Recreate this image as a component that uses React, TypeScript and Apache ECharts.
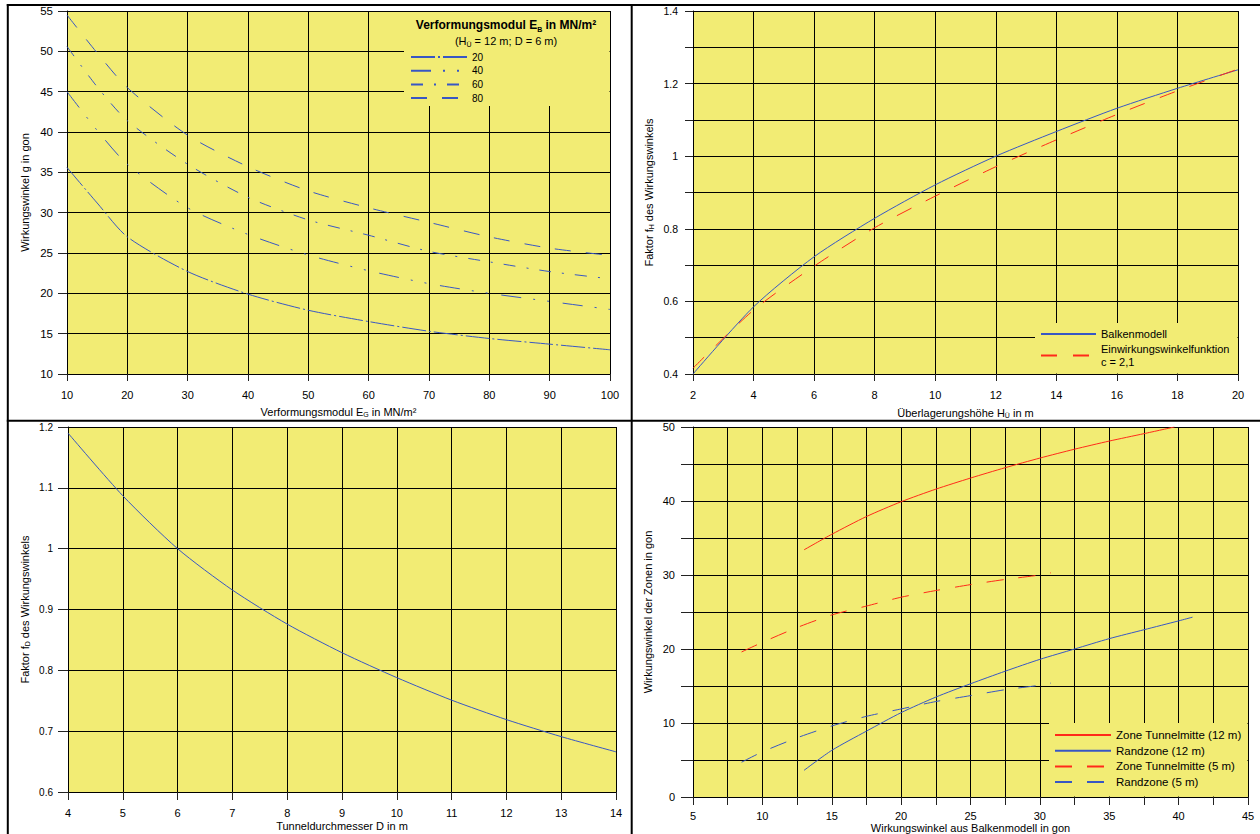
import React, { useEffect, useRef } from 'react';
import * as echarts from 'echarts';

const FONT = '"Liberation Sans", Arial, sans-serif';
const YELLOW = '#f2ec74';
const BLUE = '#3857c4';
const RED = '#ff2a1a';
const INK = '#000000';

// Panel 1: Wirkungswinkel vs. Verformungsmodul E_G
const eG = [10, 15, 20, 30, 40, 50, 60, 70, 80, 90, 100];
const eB20 = [35.6, 31.2, 27.0, 22.7, 19.9, 17.9, 16.5, 15.3, 14.4, 13.7, 13.0];
const eB40 = [45.0, 40.2, 36.0, 30.6, 27.3, 24.75, 22.8, 21.2, 20.0, 19.0, 18.0];
const eB60 = [50.6, 45.6, 41.4, 36.0, 31.9, 29.1, 27.2, 25.2, 23.9, 22.7, 21.8];
const eB80 = [54.5, 49.8, 45.5, 39.6, 35.7, 32.7, 30.6, 28.8, 27.0, 25.6, 24.7];
const eBNames = ['20', '40', '60', '80'];

// Panel 2: Faktor f_H vs. Überlagerungshöhe
const hU = [2, 4, 6, 8, 10, 12, 14, 16, 18, 20];
const fHBalken = [0.4, 0.585, 0.723, 0.829, 0.921, 1.0, 1.068, 1.132, 1.187, 1.238];
const fHEinw = [0.416, 0.576, 0.697, 0.803, 0.89, 0.971, 1.045, 1.115, 1.18, 1.24];

// Panel 3: Faktor f_D vs. Tunneldurchmesser
const dT = [4, 5, 6, 7, 8, 9, 10, 11, 12, 13, 14];
const fD = [1.19, 1.087, 1.0, 0.932, 0.876, 0.829, 0.788, 0.751, 0.719, 0.691, 0.666];

// Panel 4: Wirkungswinkel der Zonen vs. Balkenmodell
const xMitte12 = [13, 15, 17.5, 20, 22.5, 25, 27.5, 30, 32.5, 35, 37.5, 39.7];
const yMitte12 = [33.4, 35.5, 37.9, 39.9, 41.6, 43.1, 44.5, 45.8, 47.0, 48.1, 49.1, 50.0];
const xRand12 = [13, 15, 17.5, 20, 22.5, 25, 27.5, 30, 32.5, 35, 37.5, 40, 41];
const yRand12 = [3.6, 6.3, 8.9, 11.4, 13.5, 15.3, 17.0, 18.6, 20.0, 21.4, 22.6, 23.8, 24.3];
const xZone5 = [8.5, 10, 12.5, 15, 17.5, 20, 22.5, 25, 27.5, 30, 30.8];
const yMitte5 = [19.6, 20.9, 22.9, 24.6, 25.8, 27.0, 27.9, 28.7, 29.4, 30.0, 30.3];
const yRand5 = [4.7, 6.1, 8.0, 9.6, 10.9, 11.9, 12.9, 13.7, 14.5, 15.1, 15.4];

const zip = (xs: number[], ys: number[]) => xs.map((x, i) => [x, ys[i]]);

const rich = {
  t: { fontSize: 11, fontFamily: FONT, color: INK, lineHeight: 13 },
  s: { fontSize: 7, fontFamily: FONT, color: INK, lineHeight: 8, verticalAlign: 'bottom' },
};

function xAxisOf(gi: number, min: number, max: number, interval: number, name: string, nameGap: number, tickLen: number, margin: number, formatter?: (v: number) => string, nameLH = 13) {
  return {
    type: 'value', gridIndex: gi, min, max, interval,
    name, nameLocation: 'middle', nameGap, nameMoveOverlap: false,
    nameTextStyle: { fontSize: 11, fontFamily: FONT, color: INK, lineHeight: nameLH, rich },
    axisLine: { show: true, onZero: false, lineStyle: { color: INK, width: 1 } },
    axisTick: { show: true, length: tickLen, lineStyle: { color: '#222', width: 1 } },
    axisLabel: { show: true, fontSize: 11, fontFamily: FONT, color: INK, margin, showMinLabel: true, showMaxLabel: true, formatter: formatter || ((v: number) => String(v)) },
    splitLine: { show: true, lineStyle: { color: INK, width: 1 } },
  };
}

function yAxisOf(gi: number, min: number, max: number, interval: number, name: string, nameGap: number, tickLen: number, margin: number, fontSize: number, formatter?: (v: number) => string) {
  return {
    type: 'value', gridIndex: gi, min, max, interval,
    name, nameLocation: 'middle', nameGap, nameRotate: 90,
    nameTextStyle: { fontSize: 11, fontFamily: FONT, color: INK, lineHeight: 14, rich },
    axisLine: { show: true, onZero: false, lineStyle: { color: INK, width: 1 } },
    axisTick: { show: true, length: tickLen, lineStyle: { color: '#222', width: 1 } },
    axisLabel: { show: true, fontSize, fontFamily: FONT, color: INK, margin, showMinLabel: true, showMaxLabel: true, formatter: formatter || ((v: number) => String(v)) },
    splitLine: { show: true, lineStyle: { color: INK, width: 1 } },
  };
}

function line(name: string, gi: number, data: number[][], color: string, dash: any) {
  return {
    type: 'line', name, xAxisIndex: gi, yAxisIndex: gi, data,
    symbol: 'none', showSymbol: false, smooth: 0.25,
    lineStyle: { color, width: 1, type: dash },
    itemStyle: { color },
    emphasis: { disabled: true },
    z: 2,
  };
}

const legendText = { fontFamily: FONT, color: INK };
const noSymbol = { color: 'transparent', borderColor: 'transparent', borderWidth: 0, opacity: 0 };

export default function App() {
  const ref = useRef<HTMLDivElement>(null);
  useEffect(() => {
    if (!ref.current) return;
    const chart = echarts.init(ref.current, undefined, { renderer: 'svg' });
    const gridBase = { show: true, backgroundColor: YELLOW, borderWidth: 0, containLabel: false, outerBoundsMode: 'none' };
    const tenth = (v: number) => String(Math.round(v * 10) / 10);
    const option: any = {
      animation: false,
      backgroundColor: '#ffffff',
      textStyle: { fontFamily: FONT },
      grid: [
        { ...gridBase, left: 67, top: 11, width: 543, height: 363 },
        { ...gridBase, left: 693, top: 11, width: 545, height: 363 },
        { ...gridBase, left: 68, top: 427, width: 548, height: 365 },
        { ...gridBase, left: 693, top: 427, width: 555, height: 370 },
      ],
      xAxis: [
        xAxisOf(0, 10, 100, 10, '{t|Verformungsmodul E}{s|G}{t| in MN/m²}', 31, 7, 15),
        xAxisOf(1, 2, 20, 2, '{t|Überlagerungshöhe H}{s|Ü}{t| in m}', 32, 7, 15),
        xAxisOf(2, 4, 14, 1, 'Tunneldurchmesser D in m', 28, 8, 15, undefined, 11),
        xAxisOf(3, 5, 45, 2.5, 'Wirkungswinkel aus Balkenmodell in gon', 25.5, 8, 13, (v: number) => (v % 5 === 0 ? String(v) : ''), 11),
      ],
      yAxis: [
        yAxisOf(0, 10, 55, 5, 'Wirkungswinkel g in gon', 35, 9, 14, 11.5),
        yAxisOf(1, 0.4, 1.4, 0.1, '{t|Faktor f}{s|H}{t| des Wirkungswinkels}', 38, 8, 15, 10.5, (v: number) => (Math.round(v * 10) % 2 === 0 ? tenth(v) : '')),
        yAxisOf(2, 0.6, 1.2, 0.1, '{t|Faktor f}{s|D}{t| des Wirkungswinkels}', 37, 10, 15, 10, tenth),
        yAxisOf(3, 0, 50, 5, 'Wirkungswinkel der Zonen in gon', 38, 12, 18, 11, (v: number) => (v % 10 === 0 ? String(v) : '')),
      ],
      legend: [
        {
          data: eBNames, left: 410, top: 52, orient: 'vertical', padding: 0,
          itemWidth: 56, itemHeight: 10, itemGap: 3.7, selectedMode: false,
          itemStyle: noSymbol,
          textStyle: { ...legendText, fontSize: 10, lineHeight: 10 }, z: 5,
        },
        {
          data: ['Balkenmodell', 'Einwirkungswinkelfunktion'], left: 1040, top: 327.5, orient: 'vertical', padding: 0,
          itemWidth: 55, itemHeight: 10, itemGap: 2, selectedMode: false,
          itemStyle: noSymbol,
          formatter: (n: string) => (n === 'Einwirkungswinkelfunktion' ? n + '\nc = 2,1' : n),
          textStyle: { ...legendText, fontSize: 11, lineHeight: 13 }, z: 5,
        },
        {
          data: ['Zone Tunnelmitte (12 m)', 'Randzone (12 m)', 'Zone Tunnelmitte (5 m)', 'Randzone (5 m)'],
          left: 1054, top: 728.5, orient: 'vertical', padding: 0,
          itemWidth: 56, itemHeight: 10, itemGap: 2.7, selectedMode: false,
          itemStyle: noSymbol,
          textStyle: { ...legendText, fontSize: 11.5, lineHeight: 13 }, z: 5,
        },
      ],
      graphic: {
        elements: [
          { type: 'rect', z: 1, shape: { x: 404, y: 12, width: 205.5, height: 94 }, style: { fill: YELLOW } },
          { type: 'rect', z: 1, shape: { x: 1035, y: 323, width: 202.5, height: 50.5 }, style: { fill: YELLOW } },
          { type: 'rect', z: 1, shape: { x: 1049, y: 723, width: 198.5, height: 73.5 }, style: { fill: YELLOW } },
          {
            type: 'text', z: 6, x: 506, y: 25,
            style: {
              text: '{b|Verformungsmodul E}{bs|B}{b| in MN/m²}',
              align: 'center', verticalAlign: 'middle',
              rich: {
                b: { fontSize: 12, fontWeight: 'bold', fontFamily: FONT, fill: INK, lineHeight: 15 },
                bs: { fontSize: 7, fontWeight: 'bold', fontFamily: FONT, fill: INK, lineHeight: 8, verticalAlign: 'bottom' },
              },
            },
          },
          {
            type: 'text', z: 6, x: 506, y: 41,
            style: {
              text: '{r|(H}{rs|Ü}{r| = 12 m; D = 6 m)}',
              align: 'center', verticalAlign: 'middle',
              rich: {
                r: { fontSize: 11, fontFamily: FONT, fill: INK, lineHeight: 14 },
                rs: { fontSize: 7, fontFamily: FONT, fill: INK, lineHeight: 8, verticalAlign: 'bottom' },
              },
            },
          },
          { type: 'line', z: 10, shape: { x1: 6.8, y1: 5, x2: 1260, y2: 5 }, style: { stroke: INK, lineWidth: 2 } },
          { type: 'line', z: 10, shape: { x1: 7.8, y1: 4, x2: 7.8, y2: 834 }, style: { stroke: INK, lineWidth: 2 } },
          { type: 'line', z: 10, shape: { x1: 631.7, y1: 4, x2: 631.7, y2: 834 }, style: { stroke: INK, lineWidth: 2 } },
          { type: 'line', z: 10, shape: { x1: 6.8, y1: 420.7, x2: 1260, y2: 420.7 }, style: { stroke: INK, lineWidth: 2 } },
        ],
      },
      series: [
        line('20', 0, zip(eG, eB20), BLUE, [24, 3, 2, 3]),
        line('40', 0, zip(eG, eB40), BLUE, [20, 12, 2, 12, 2, 14]),
        line('60', 0, zip(eG, eB60), BLUE, [12, 11, 2, 11]),
        line('80', 0, zip(eG, eB80), BLUE, [16, 15]),
        line('Balkenmodell', 1, zip(hU, fHBalken), BLUE, 'solid'),
        line('Einwirkungswinkelfunktion', 1, zip(hU, fHEinw), RED, [16, 16]),
        line('Tunneldurchmesser', 2, zip(dT, fD), BLUE, 'solid'),
        line('Zone Tunnelmitte (12 m)', 3, zip(xMitte12, yMitte12), RED, 'solid'),
        line('Randzone (12 m)', 3, zip(xRand12, yRand12), BLUE, 'solid'),
        line('Zone Tunnelmitte (5 m)', 3, zip(xZone5, yMitte5), RED, [17, 15]),
        line('Randzone (5 m)', 3, zip(xZone5, yRand5), BLUE, [17, 15]),
      ],
    };
    chart.setOption(option);
    return () => chart.dispose();
  }, []);
  return <div ref={ref} style={{ position: 'fixed', left: 0, top: 0, width: 1260, height: 834, background: '#fff' }} />;
}
